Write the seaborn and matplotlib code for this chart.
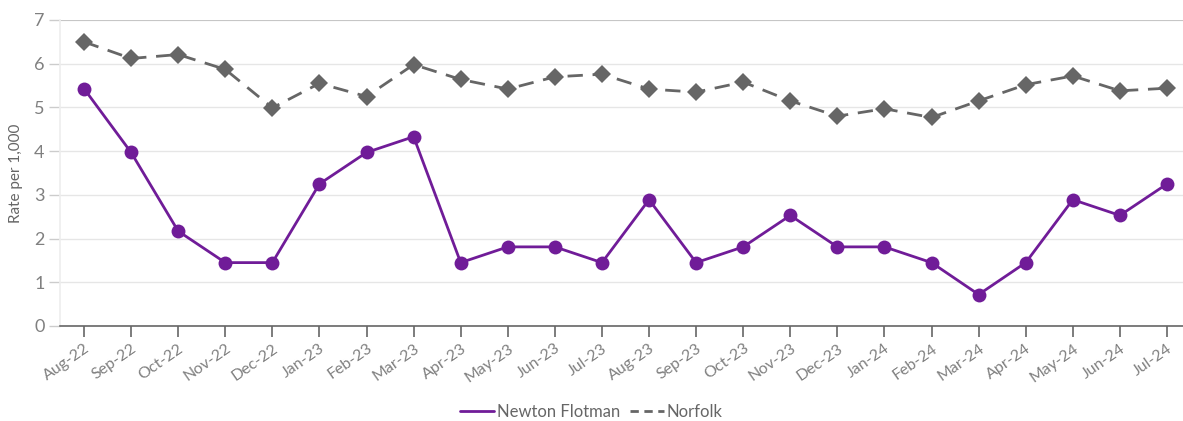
import matplotlib
matplotlib.use("Agg")
import matplotlib.pyplot as plt
import seaborn as sns
import pandas as pd
from matplotlib.lines import Line2D

months = ["Aug-22", "Sep-22", "Oct-22", "Nov-22", "Dec-22", "Jan-23", "Feb-23", "Mar-23",
          "Apr-23", "May-23", "Jun-23", "Jul-23", "Aug-23", "Sep-23", "Oct-23", "Nov-23",
          "Dec-23", "Jan-24", "Feb-24", "Mar-24", "Apr-24", "May-24", "Jun-24", "Jul-24"]
newton = [5.43, 3.97, 2.17, 1.45, 1.45, 3.25, 3.97, 4.33, 1.45, 1.81, 1.81, 1.45,
          2.89, 1.45, 1.81, 2.53, 1.81, 1.81, 1.45, 0.72, 1.45, 2.89, 2.53, 3.25]
norfolk = [6.50, 6.12, 6.21, 5.87, 4.99, 5.55, 5.25, 5.98, 5.64, 5.42, 5.70, 5.76,
           5.42, 5.35, 5.58, 5.15, 4.80, 4.97, 4.77, 5.15, 5.52, 5.72, 5.38, 5.44]
y_ticks = [0, 1, 2, 3, 4, 5, 6, 7]

sns.set_theme(style="white")
plt.rcParams['font.family'] = ['Lato', 'DejaVu Sans']

purple = "#701c98"
grey = "#666666"
text_col = "#808080"

df = pd.DataFrame({"idx": list(range(len(months))) * 2,
                   "value": newton + norfolk,
                   "series": ["Newton Flotman"] * len(months) + ["Norfolk"] * len(months)})

fig = plt.figure(figsize=(11.83, 4.21), dpi=100)
ax = fig.add_axes([60 / 1183, 1 - 326 / 421, 1 - 60 / 1183, (326 - 20) / 421])

sns.lineplot(data=df[df.series == "Norfolk"], x="idx", y="value", ax=ax, color=grey,
             linestyle=(0, (5.5, 3.5)), linewidth=2, marker="D", markersize=9,
             markeredgewidth=0, label="Norfolk", zorder=3)
sns.lineplot(data=df[df.series == "Newton Flotman"], x="idx", y="value", ax=ax, color=purple,
             linewidth=2, marker="o", markersize=10, markeredgewidth=0,
             label="Newton Flotman", zorder=4)

ax.set_xlim(-0.51, len(months) - 0.66)
ax.set_ylim(0, 7)
ax.set_yticks(y_ticks)
ax.set_yticklabels([str(t) for t in y_ticks])
ax.set_xticks(range(len(months)))
ax.set_xticklabels(months, rotation=35, ha="right", rotation_mode="anchor")
ax.set_xlabel("")
ax.set_ylabel("Rate per 1,000", color="#666666", fontsize=11, labelpad=8)

ax.grid(axis="y", color="#e6e6e6", linewidth=1)
for s in ["top", "right"]:
    ax.spines[s].set_visible(False)
ax.spines["left"].set_color("#eeeeee")
ax.spines["bottom"].set_color("#666666")
ax.spines["bottom"].set_linewidth(1.2)
ax.axhline(7, color="#c0c0c0", linewidth=1.2, zorder=1)

ax.tick_params(axis="x", colors="#666666", labelcolor=text_col, labelsize=11.5,
               length=8, width=1.2, direction="out", bottom=True, pad=3)
ax.tick_params(axis="y", colors="#cccccc", labelcolor=text_col, labelsize=13,
               length=8, width=1, left=True, pad=3)

h = [Line2D([], [], color=purple, linewidth=2),
     Line2D([], [], color=grey, linewidth=2, linestyle=(0, (3, 2)))]
ax.legend(h, ["Newton Flotman", "Norfolk"], loc="center", bbox_to_anchor=(0.5 - 30 / 1123, -0.28),
          ncol=2, frameon=False, fontsize=12, labelcolor="#666666",
          handlelength=2.0, handletextpad=0.2, columnspacing=0.6, borderpad=0.2)

fig.savefig("out.png", dpi=100)
